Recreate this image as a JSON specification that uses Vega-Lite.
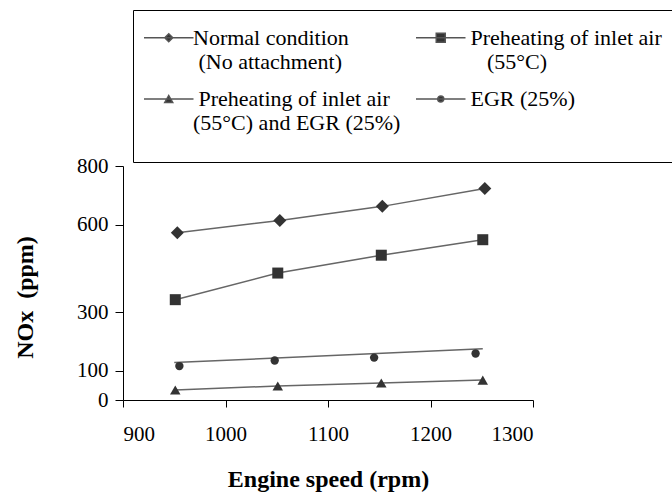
{
  "$schema": "https://vega.github.io/schema/vega-lite/v6.json",
  "width": 410,
  "height": 234,
  "autosize": "none",
  "padding": {"left": 123, "top": 166, "right": 139, "bottom": 93},
  "config": {
    "font": "Liberation Serif",
    "view": {"stroke": null},
    "axis": {
      "grid": false,
      "domainColor": "#000",
      "tickColor": "#000",
      "labelColor": "#000",
      "titleColor": "#000",
      "labelFont": "Liberation Serif",
      "titleFont": "Liberation Serif",
      "titleFontWeight": "bold",
      "tickSize": 7
    }
  },
  "datasets": {
    "points": [
      {"series": "Normal condition", "rpm": 953, "nox": 572},
      {"series": "Normal condition", "rpm": 1053, "nox": 614},
      {"series": "Normal condition", "rpm": 1153, "nox": 662},
      {"series": "Normal condition", "rpm": 1253, "nox": 723},
      {"series": "Preheating of inlet air", "rpm": 951, "nox": 343},
      {"series": "Preheating of inlet air", "rpm": 1051, "nox": 434},
      {"series": "Preheating of inlet air", "rpm": 1152, "nox": 495},
      {"series": "Preheating of inlet air", "rpm": 1251, "nox": 548},
      {"series": "Preheating and EGR", "rpm": 951, "nox": 34},
      {"series": "Preheating and EGR", "rpm": 1051, "nox": 48},
      {"series": "Preheating and EGR", "rpm": 1152, "nox": 58},
      {"series": "Preheating and EGR", "rpm": 1251, "nox": 68},
      {"series": "EGR", "rpm": 955, "nox": 116},
      {"series": "EGR", "rpm": 1048, "nox": 135},
      {"series": "EGR", "rpm": 1145, "nox": 145},
      {"series": "EGR", "rpm": 1244, "nox": 159}
    ],
    "lines": [
      {"series": "Normal condition", "rpm": 953, "nox": 572},
      {"series": "Normal condition", "rpm": 1053, "nox": 614},
      {"series": "Normal condition", "rpm": 1153, "nox": 662},
      {"series": "Normal condition", "rpm": 1253, "nox": 723},
      {"series": "Preheating of inlet air", "rpm": 951, "nox": 343},
      {"series": "Preheating of inlet air", "rpm": 1051, "nox": 434},
      {"series": "Preheating of inlet air", "rpm": 1152, "nox": 495},
      {"series": "Preheating of inlet air", "rpm": 1251, "nox": 548},
      {"series": "Preheating and EGR", "rpm": 951, "nox": 34},
      {"series": "Preheating and EGR", "rpm": 1051, "nox": 48},
      {"series": "Preheating and EGR", "rpm": 1152, "nox": 58},
      {"series": "Preheating and EGR", "rpm": 1251, "nox": 68},
      {"series": "EGR", "rpm": 950, "nox": 128},
      {"series": "EGR", "rpm": 1251, "nox": 175}
    ]
  },
  "resolve": {"scale": {"shape": "independent"}, "legend": {"shape": "independent"}},
  "layer": [
    {
      "data": {"name": "lines"},
      "mark": {"type": "line", "stroke": "#666", "strokeWidth": 1.5},
      "encoding": {
        "x": {"field": "rpm", "type": "quantitative", "scale": {"domain": [900, 1300]},
          "axis": {"values": [900, 1000, 1100, 1200, 1300], "format": "d", "labelFontSize": 21, "labelPadding": 16, "title": "Engine speed (rpm)", "titleFontSize": 24, "titleY": 79, "titleBaseline": "middle"}},
        "y": {"field": "nox", "type": "quantitative", "scale": {"domain": [0, 800]},
          "axis": {"values": [0, 100, 300, 600, 800], "format": "d", "labelFontSize": 21, "tickSize": 8, "labelPadding": 7, "title": "NOx\u00a0\u00a0(ppm)", "titleFontSize": 24, "titleX": -98, "titleY": 131, "titleAngle": 270, "titleAlign": "center", "titleBaseline": "middle"}},
        "detail": {"field": "series"}
      }
    },
    {
      "data": {"name": "points"},
      "mark": {"type": "point", "filled": true, "fill": "#333", "stroke": "#555", "strokeWidth": 1, "size": 0},
      "encoding": {
        "x": {"field": "rpm", "type": "quantitative"},
        "y": {"field": "nox", "type": "quantitative"},
        "shape": {
          "field": "series", "type": "nominal",
          "scale": {"domain": ["Normal condition", "Preheating and EGR", "Preheating of inlet air", "EGR"],
            "range": ["M-1,0H2M0.5,-0.242L0.742,0L0.5,0.242L0.258,0Z", "M-1,0H2M0.5,-0.212L0.742,0.212H0.258Z", "M-1,0H2M0.227,-0.273H0.773V0.273H0.227Z", "M-1,0H2M0.682,0A0.182,0.182,0,1,1,0.318,0A0.182,0.182,0,1,1,0.682,0Z"]},
          "legend": {
            "orient": "none", "legendX": 10, "legendY": -156,
            "columns": 2, "title": "\u00a0", "titleOrient": "bottom", "titleFontSize": 10, "titlePadding": 8,
            "strokeColor": "#000", "padding": 10,
            "symbolSize": 1089, "symbolOpacity": 1,
            "labelFont": "Liberation Serif", "labelFontSize": 22, "labelColor": "#000",
            "labelOffset": 15, "labelLimit": 400, "columnPadding": 12, "rowPadding": 8.5,
            "labelExpr": "datum.value == 'Normal condition' ? ['Normal condition', '\u200b\u00a0(No attachment)'] : datum.value == 'Preheating of inlet air' ? ['\u200b\u00a0Preheating of inlet air', '\u200b\u00a0\u00a0\u00a0\u00a0(55°C)'] : datum.value == 'Preheating and EGR' ? ['\u200b\u00a0Preheating of inlet air', '(55°C) and EGR (25%)'] : '\u200b\u00a0EGR (25%)'"
          }
        }
      }
    },
    {
      "data": {"name": "points"},
      "mark": {"type": "point", "filled": true, "fill": "#333", "opacity": 1},
      "encoding": {
        "x": {"field": "rpm", "type": "quantitative"},
        "y": {"field": "nox", "type": "quantitative"},
        "shape": {
          "field": "series", "type": "nominal",
          "scale": {"domain": ["Normal condition", "Preheating and EGR", "Preheating of inlet air", "EGR"], "range": ["diamond", "triangle-up", "square", "circle"]},
          "legend": null
        },
        "size": {
          "field": "series", "type": "nominal",
          "scale": {"type": "ordinal", "domain": ["EGR", "Normal condition", "Preheating and EGR", "Preheating of inlet air"], "range": [70, 169, 110, 121]},
          "legend": null
        }
      }
    }
  ]
}
